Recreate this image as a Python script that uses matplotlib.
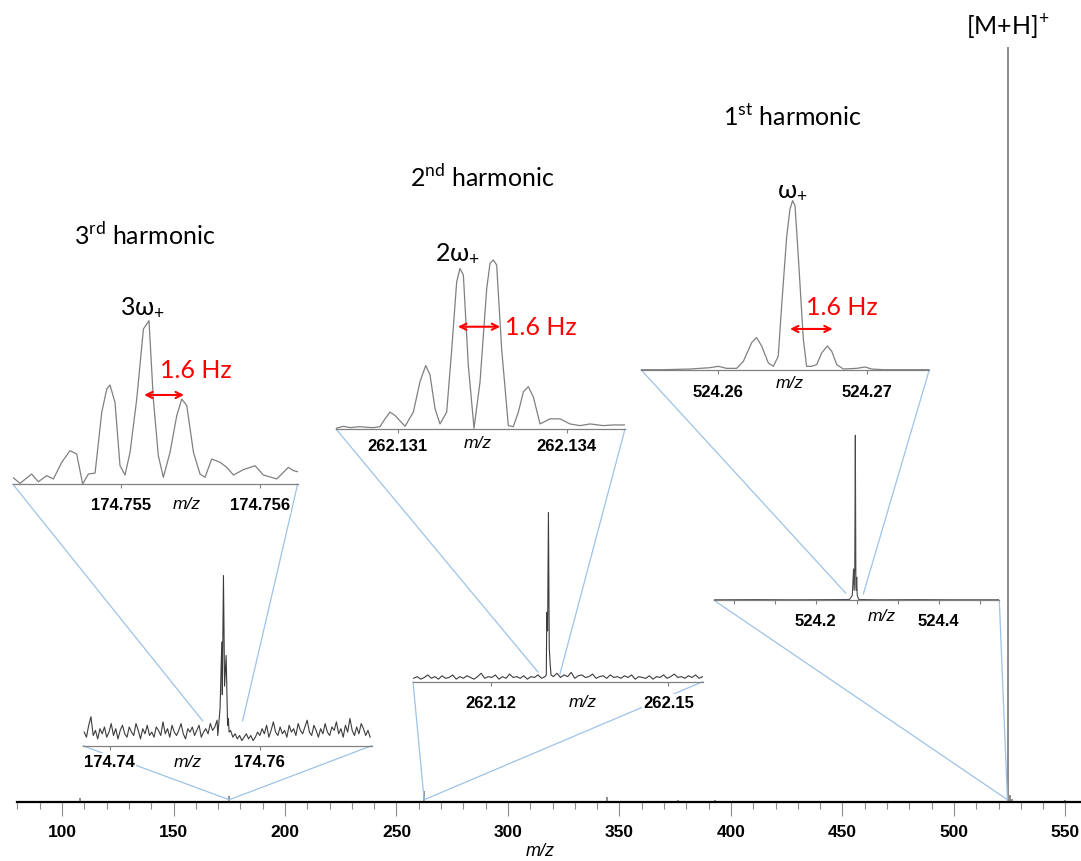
import numpy as np
import matplotlib
matplotlib.use("Agg")
import matplotlib.pyplot as plt
from matplotlib.patches import ConnectionPatch
from matplotlib.ticker import MultipleLocator

plt.rcParams["font.family"] = ["Liberation Sans", "DejaVu Sans"]
plt.rcParams["mathtext.fontset"] = "custom"
plt.rcParams["mathtext.rm"] = "Lato"

# ---------------------------------------------------------------- data
# Full-range spectrum, centroided sticks (relative intensity, %)
full_mz = [108.1, 174.75, 262.13, 344.6, 376.2, 392.9, 524.26, 525.27, 526.27, 549.8]
full_int = [0.5, 0.8, 1.4, 0.6, 0.3, 0.3, 100.0, 0.9, 0.4, 0.3]
full_ticks = [100, 150, 200, 250, 300, 350, 400, 450, 500, 550]

# 3rd harmonic, wide window (174.74 - 174.76): noise + peak cluster
h3w_left_start, h3w_step = 174.7366, 0.0003
h3w_left = [8, 5, 12, 17, 6, 9, 4, 10, 7, 11, 5, 8, 13, 6, 10, 4, 9, 12, 7, 5,
            11, 8, 6, 13, 9, 4, 10, 7, 12, 6, 8, 5, 11, 9, 6, 14, 7, 10, 5, 12,
            8, 6, 9, 13, 7, 4, 10, 8, 11, 6, 9, 12, 5, 8, 10, 7, 13, 9, 11, 15]
h3w_peak_mz = [174.7544, 174.7547, 174.75493, 174.7550, 174.75515, 174.7553,
               174.75551, 174.7557, 174.75581, 174.7559]
h3w_peak_int = [6, 22, 61, 30, 100, 35, 53, 12, 16, 8]
h3w_right_start = 174.7561
h3w_right = [9, 5, 7, 4, 6, 3, 5, 7, 4, 6, 3, 5, 8, 6, 10, 7, 12, 5, 9, 14,
             8, 6, 11, 7, 9, 5, 12, 8, 10, 6, 13, 9, 7, 11, 15, 8, 6, 12, 9, 5,
             10, 7, 13, 8, 6, 11, 9, 14, 7, 10, 5, 12, 8, 16, 9, 6, 11, 7, 13, 10,
             6, 9, 5]

# 2nd harmonic, wide window (262.12 - 262.15)
h2w_left_start, h2w_step = 262.1070, 0.0006
h2w_left = [2, 3, 1.5, 2.5, 4, 2, 3, 1.5, 3.5, 2, 2.5, 4, 1.5, 3, 2, 3.5, 2.5, 1.5, 3, 5,
            2, 3, 2.5, 4, 1.5, 3, 2, 4.5, 2.5, 3, 2, 3.5, 1.5, 3, 2.5, 4, 2, 3]
h2w_peak_mz = [262.1294, 262.12948, 262.12962, 262.12976, 262.1299, 262.13004, 262.1302]
h2w_peak_int = [4, 41, 30, 100, 20, 11, 4]
h2w_right_start = 262.1306
h2w_right = [3, 5, 2.5, 4, 3, 5.5, 2, 3.5, 4, 2.5, 3, 4.5, 2, 3, 3.5, 2, 4, 2.5, 3, 2,
             3.5, 2.5, 4, 1.5, 3, 2.5, 2, 3.5, 1.5, 3, 2.5, 4, 2, 3, 4.5, 2.5, 3, 2, 3.5,
             2.5, 4, 2, 3]

# 1st harmonic, wide window (524.2 - 524.4)
h1w_mz = [524.0346, 524.10, 524.16, 524.22, 524.255, 524.2595, 524.2615, 524.2625,
          524.2635, 524.2644, 524.2653, 524.2660, 524.2666, 524.2675, 524.270,
          524.30, 524.36, 524.42, 524.4985]
h1w_int = [0.3, 0.4, 0.3, 0.4, 0.5, 3, 19, 6, 20, 100, 10, 6, 14, 3, 0.5,
           0.3, 0.4, 0.3, 0.3]

# 3rd harmonic, narrow window
h3n_mz = [174.754225, 174.754278, 174.754361, 174.754409, 174.754469, 174.754517,
          174.754577, 174.754636, 174.754684, 174.754727, 174.754768, 174.754816,
          174.754864, 174.754900, 174.754923, 174.754959, 174.754995, 174.755031,
          174.755067, 174.755115, 174.755163, 174.755203, 174.755234, 174.755270,
          174.755306, 174.755354, 174.755402, 174.755438, 174.755474, 174.755522,
          174.755569, 174.755605, 174.755653, 174.755713, 174.755761, 174.755809,
          174.755880, 174.755964, 174.756024, 174.756120, 174.756203, 174.756239,
          174.756270]
h3n_int = [4.1, 0.4, 6.1, 1.4, 5.1, 3.1, 13.3, 20.4, 18.4, 0, 6.1, 6.7, 43.9, 58.2,
           60.6, 50, 11.2, 5.5, 19.4, 52, 94.9, 100, 52, 17.3, 4.1, 19.4, 41.8, 52,
           48, 19.4, 6.1, 4.1, 15.3, 13.3, 10.2, 5.5, 8.8, 11.2, 5.5, 3.1, 10.2, 8.2, 7.5]

# 2nd harmonic, narrow window
h2n_mz = [262.129905, 262.130036, 262.130154, 262.130331, 262.130450, 262.130568,
          262.130686, 262.130775, 262.130864, 262.130953, 262.131130, 262.131278,
          262.131396, 262.131497, 262.131574, 262.131663, 262.131751, 262.131870,
          262.131959, 262.132047, 262.132106, 262.132166, 262.132254, 262.132355,
          262.132462, 262.132580, 262.132639, 262.132698, 262.132757, 262.132846,
          262.132964, 262.133053, 262.133142, 262.133231, 262.133319, 262.133408,
          262.133527, 262.133704, 262.133882, 262.134059, 262.134237, 262.134414,
          262.134651, 262.134828, 262.135035]
h2n_int = [0.4, 1.6, 0.8, 1.4, 1, 0.8, 1.4, 6, 10, 8, 1.6, 10, 28, 37.5, 32, 12, 3, 10,
           47, 87, 95, 91, 37.5, 0.4, 28, 83, 98, 100, 97, 47, 2, 1.4, 10, 22, 25, 19,
           3, 6, 6, 3, 2, 3, 2, 2.4, 2.4]

# 1st harmonic, narrow window
h1n_mz = [524.25479, 524.25629, 524.25809, 524.25944, 524.26000, 524.26056, 524.26124,
          524.26169, 524.26225, 524.26258, 524.26292, 524.26337, 524.26371, 524.26404,
          524.26427, 524.26461, 524.26483, 524.26501, 524.26517, 524.26539, 524.26573,
          524.26595, 524.26629, 524.26663, 524.26697, 524.26735, 524.26764, 524.26798,
          524.26843, 524.26933, 524.26989, 524.27034, 524.27112, 524.27422]
h1n_int = [0, 0, 0.4, 1.2, 2, 0.8, 0.8, 5, 16, 19, 14, 4, 2, 8, 38, 79, 95, 100, 97, 67,
           18, 2, 2, 3, 10, 14, 11, 3, 0.4, 0.8, 1.6, 0.4, 0, 0]

# tick positions / labels of the zoom panels
h3w_ticks, h3w_labels = [174.74, 174.76], ["174.74", "174.76"]
h2w_ticks, h2w_labels = [262.12, 262.15], ["262.12", "262.15"]
h1w_ticks, h1w_labels = [524.2, 524.4], ["524.2", "524.4"]
h3n_ticks, h3n_labels = [174.755, 174.756], ["174.755", "174.756"]
h2n_ticks, h2n_labels = [262.131, 262.134], ["262.131", "262.134"]
h1n_ticks, h1n_labels = [524.26, 524.27], ["524.26", "524.27"]

# beat separations (marked 1.6 Hz)
h3_split = [174.755168, 174.755454]
h2_split = [262.13207, 262.13282]
h1_split = [524.264832, 524.267709]


def series(start, step, values):
    return [start + step * i for i in range(len(values))]


h3w_mz = series(h3w_left_start, h3w_step, h3w_left) + h3w_peak_mz + \
    series(h3w_right_start, h3w_step, h3w_right)
h3w_int = h3w_left + h3w_peak_int + h3w_right
h2w_mz = series(h2w_left_start, h2w_step, h2w_left) + h2w_peak_mz + \
    series(h2w_right_start, h2w_step, h2w_right)
h2w_int = h2w_left + h2w_peak_int + h2w_right

# ---------------------------------------------------------------- layout
W, H = 1081, 862
fig = plt.figure(figsize=(W / 100, H / 100), dpi=100)
fig.patch.set_facecolor("white")

LINK = "#9dc3e6"
GRAY = "#808080"
ANN = ["Lato", "Open Sans", "DejaVu Sans"]


def box(x0, x1, ybase, ytop):
    return [x0 / W, 1 - ybase / H, (x1 - x0) / W, (ybase - ytop) / H]


# main spectrum
ax = fig.add_axes(box(17, 1081, 803, 0), zorder=0)
ax.vlines(full_mz, 0, full_int, color="#6e6e6e", lw=1.1)
ax.set_xlim(79.8, 557)
ax.set_ylim(0, 106.4)
for s in ("top", "left", "right"):
    ax.spines[s].set_visible(False)
ax.spines["bottom"].set_linewidth(1.6)
ax.set_yticks([])
ax.set_xticks(full_ticks)
ax.set_xticklabels([str(t) for t in full_ticks], fontweight="bold", fontsize=12.5)
ax.xaxis.set_minor_locator(MultipleLocator(10))
ax.tick_params(axis="x", which="major", length=10, width=0.8, color="#8c8c8c", pad=5.5)
ax.tick_params(axis="x", which="minor", length=5, width=0.8, color="#8c8c8c")
fig.text(540 / W, 1 - 852 / H, "m/z", style="italic", fontsize=13,
         ha="center", va="center")
ax.text(524.3, 102.8, "[M+H]$^{\\mathregular{+}}$", family=ANN, fontsize=18,
        ha="center", va="center")


def panel(bx, xlim, ticks, labels, pad, mz_frac, mz_off, minor=None):
    a = fig.add_axes(bx, zorder=2)
    a.patch.set_visible(False)
    a.set_xlim(*xlim)
    a.set_ylim(0, 105)
    for s in ("top", "left", "right"):
        a.spines[s].set_visible(False)
    a.spines["bottom"].set_color(GRAY)
    a.spines["bottom"].set_linewidth(0.9)
    a.set_yticks([])
    a.set_xticks(ticks)
    a.set_xticklabels(labels, fontweight="bold", fontsize=12)
    if minor:
        a.xaxis.set_minor_locator(MultipleLocator(minor))
    a.tick_params(axis="x", which="both", direction="out", length=3, width=0.8,
                  color=GRAY, pad=pad)
    for lbl in a.get_xticklabels():
        lbl.set_bbox(dict(facecolor="white", edgecolor="none", pad=0.5))
    a.annotate("m/z", xy=(mz_frac, 0), xycoords="axes fraction",
               xytext=(0, -mz_off), textcoords="offset points",
               ha="center", va="center", style="italic", fontsize=12.5)
    return a


# wide zoom panels
a3w = panel(box(82.7, 371.7, 746.7, 568), (174.7364, 174.7749), h3w_ticks, h3w_labels,
            3.0, 0.364, 11.5)
a3w.plot(h3w_mz, h3w_int, color="#3c3c3c", lw=0.8)
a2w = panel(box(413, 702.7, 682.7, 505), (262.1069, 262.1558), h2w_ticks, h2w_labels,
            6.5, 0.587, 14.0)
a2w.plot(h2w_mz, h2w_int, color="#3c3c3c", lw=0.8)
a1w = panel(box(714, 999.3, 601.3, 428), (524.0346, 524.4985), h1w_ticks, h1w_labels,
            6.0, 0.588, 11.0, minor=0.2 / 3)
a1w.plot(h1w_mz, h1w_int, color="#4a4a4a", lw=0.8)

# narrow zoom panels
a3n = panel(box(12.7, 297.7, 485, 313.5), (174.754225, 174.75627), h3n_ticks, h3n_labels,
            6.5, 0.611, 14.4)
a3n.plot(h3n_mz, h3n_int, color=GRAY, lw=0.9)
a2n = panel(box(336, 625, 430, 252.5), (262.129905, 262.135035), h2n_ticks, h2n_labels,
            3.5, 0.492, 9.5)
a2n.plot(h2n_mz, h2n_int, color=GRAY, lw=0.9)
a1n = panel(box(641, 929.3, 370.7, 193.2), (524.254791, 524.274218), h1n_ticks, h1n_labels,
            7.4, 0.517, 9.5)
a1n.plot(h1n_mz, h1n_int, color=GRAY, lw=0.9)

# peak labels and beat separations
a3n.text(174.75516, 109, "3ω$_{\\mathregular{+}}$", family=ANN, fontsize=18,
         ha="center", va="center", clip_on=False)
a2n.text(262.13207, 105, "2ω$_{\\mathregular{+}}$", family=ANN, fontsize=18,
         ha="center", va="center", clip_on=False)
a1n.text(524.2650, 107, "ω$_{\\mathregular{+}}$", family=ANN, fontsize=18,
         ha="center", va="center", clip_on=False)

arrow = dict(arrowstyle="<->", color="red", lw=1.5, mutation_scale=11,
             shrinkA=0, shrinkB=0)
a3n.annotate("", xy=(h3_split[1], 54.5), xytext=(h3_split[0], 54.5), arrowprops=arrow)
a3n.text(174.75554, 70.4, "1.6 Hz", color="red", family=ANN, fontsize=18,
         ha="center", va="center")
a2n.annotate("", xy=(h2_split[1], 60.5), xytext=(h2_split[0], 60.5), arrowprops=arrow)
a2n.text(262.132905, 60.4, "1.6 Hz", color="red", family=ANN, fontsize=18,
         ha="left", va="center")
a1n.annotate("", xy=(h1_split[1], 24.1), xytext=(h1_split[0], 24.1), arrowprops=arrow)
a1n.text(524.268316, 37.1, "1.6 Hz", color="red", family=ANN, fontsize=18,
         ha="center", va="center")

# harmonic titles
for x, y, txt in [(145, 235, "3$^{\\mathregular{rd}}$ harmonic"),
                  (482, 177, "2$^{\\mathregular{nd}}$ harmonic"),
                  (793, 117, "1$^{\\mathregular{st}}$ harmonic")]:
    fig.text(x / W, 1 - y / H, txt, family=ANN, fontsize=18, ha="center", va="center")


# zoom connectors
def link(axA, xyA, axB, xyB):
    con = ConnectionPatch(xyA=xyA, coordsA="data", axesA=axA,
                          xyB=xyB, coordsB="axes fraction", axesB=axB,
                          color=LINK, lw=0.9, zorder=1)
    fig.add_artist(con)


for src, pt, dst in [(ax, (175.0, 0.3), a3w), (ax, (262.4, 0.3), a2w),
                     (ax, (524.0, 0.3), a1w)]:
    link(src, pt, dst, (0, 0))
    link(src, pt, dst, (1, 0))

link(a3w, (174.7524, 14.5), a3n, (0, 0))
link(a3w, (174.7577, 14.5), a3n, (1, 0))
link(a2w, (262.1280, 5.7), a2n, (0, 0))
link(a2w, (262.1317, 4.5), a2n, (1, 0))
link(a1w, (524.2487, 4.4), a1n, (0, 0))
link(a1w, (524.2774, 3.8), a1n, (1, 0))

fig.savefig("out.png", dpi=100, facecolor="white")
